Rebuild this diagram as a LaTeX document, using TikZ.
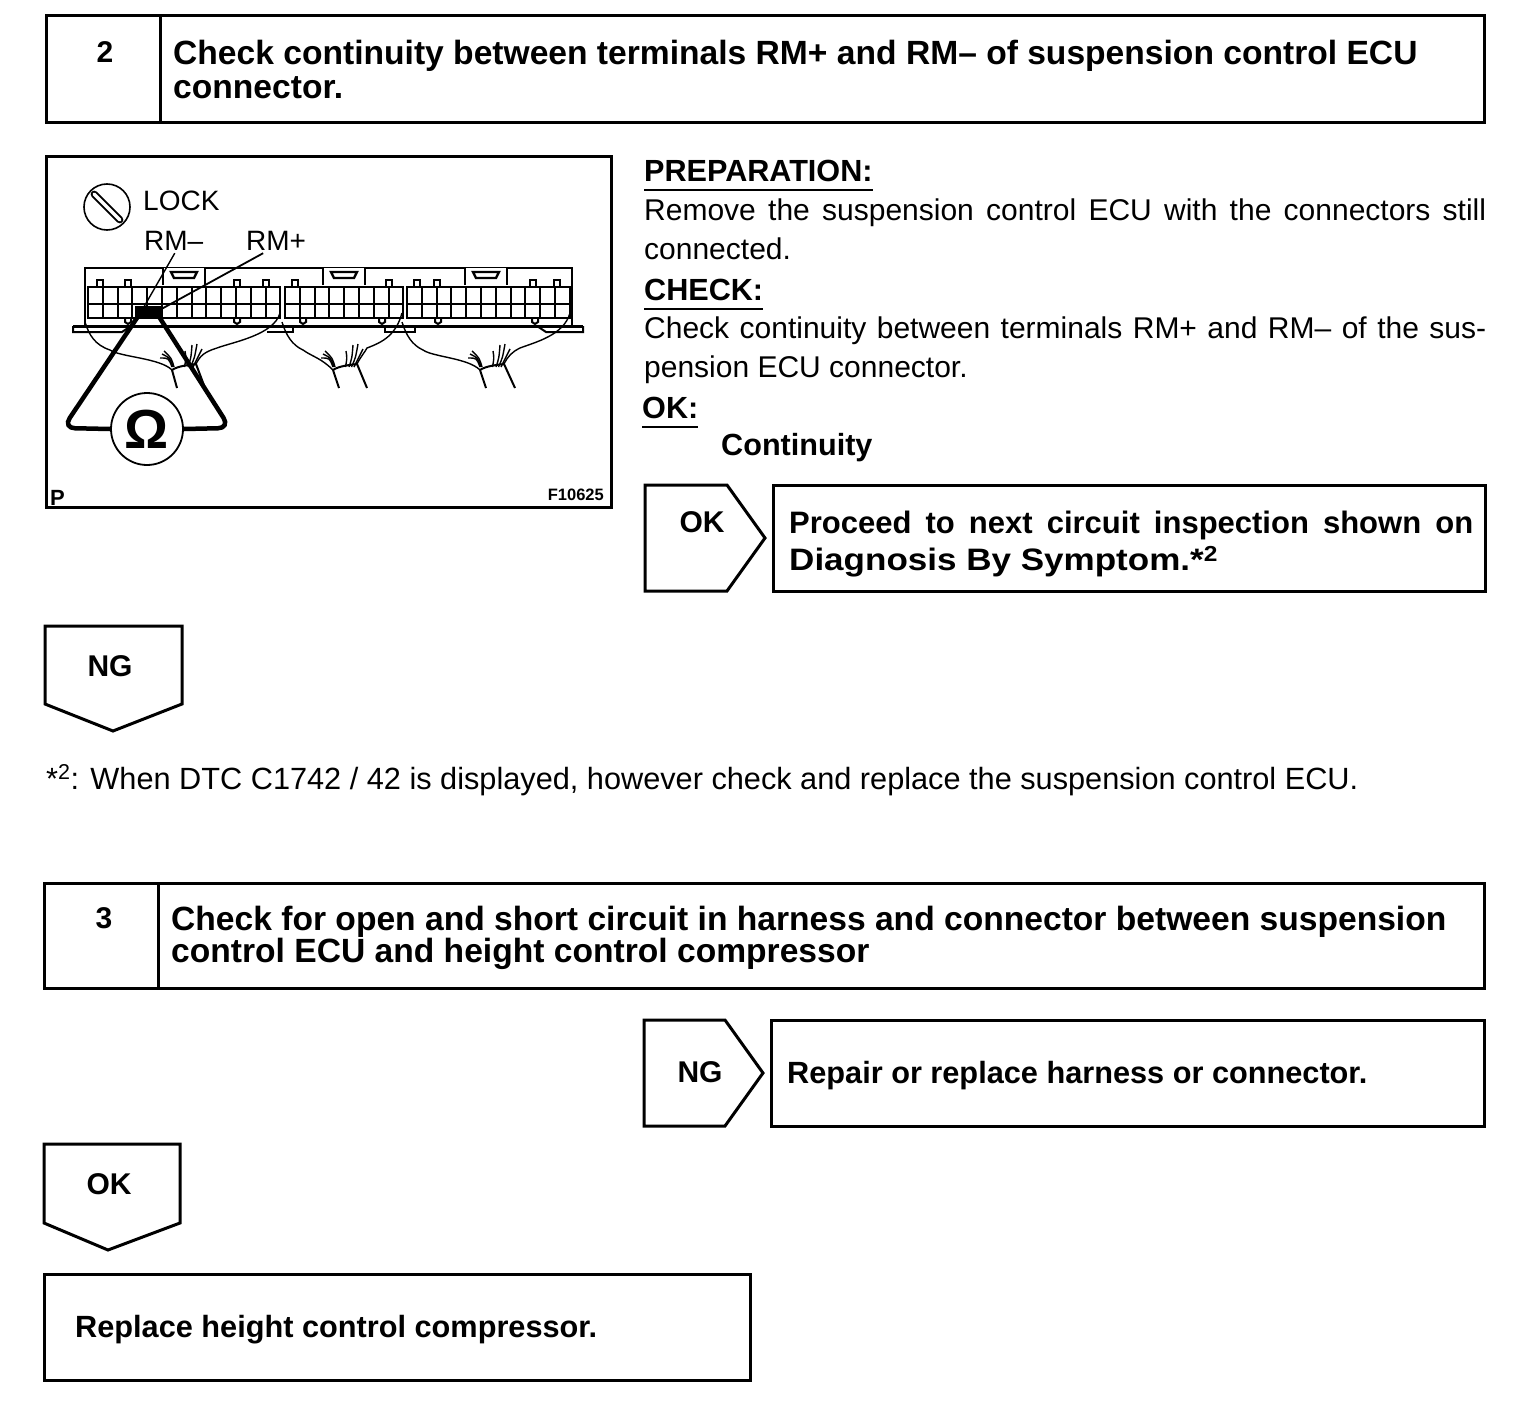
\documentclass[tikz,border=0pt]{standalone}
\usepackage{fontspec}
\setmainfont{Liberation Sans}
\usetikzlibrary{
    arrows.meta,             % For modern arrow tips
    positioning,             % For relative placement of nodes
    calc                     % For coordinate calculations
}

\begin{document}
\begin{tikzpicture}[
    x=1pt, y=-1pt, % One unit is one pixel of the page, y runs downwards
    frame_style/.style={draw=black, line width=3pt},
    box_style/.style={frame_style, rectangle, anchor=north west, inner sep=0pt, outer sep=0pt},
    title_style/.style={anchor=west, inner sep=0pt, align=left, font=\fontsize{33.6}{34}\selectfont\bfseries},
    result_style/.style={anchor=west, inner sep=0pt, font=\fontsize{30.7}{34}\selectfont\bfseries},
    tag_font/.style={font=\fontsize{30}{34}\selectfont\bfseries},
    body_style/.style={anchor=north west, inner sep=0pt, text width=842pt, align=justify, font=\fontsize{30}{39}\selectfont},
    head_style/.style={anchor=base west, inner sep=0pt, font=\fontsize{30.6}{34}\selectfont\bfseries},
    rule_style/.style={black, line width=2pt},
    thin_style/.style={black, line width=1.4pt},
    wire_style/.style={black, line width=1.4pt},
    probe_style/.style={black, line width=4.5pt, rounded corners=12pt},
    lbl_style/.style={inner sep=0pt, font=\fontsize{28}{34}\selectfont}
]
    \useasboundingbox (0,0) rectangle (1536,1418);

    % Step 2 header
    \node[box_style, minimum width=114pt, minimum height=107pt] (cell2) at (46,16) {};
    \node[box_style, minimum width=1324pt, minimum height=107pt] (title2) at (160,16) {};
    \node[title_style] (title2txt) at (173,69)
        {Check continuity between terminals RM+ and RM– of suspension control ECU\\connector.};
    \node[tag_font] (num2) at (105,52) {2};

    % Picture frame
    \node[box_style, minimum width=565pt, minimum height=351pt] (photo) at (46,156) {};

    % Lock symbol
    \node[draw, circle, line width=1.6pt, minimum size=46pt, inner sep=0pt] (lock) at (107,207) {};
    \draw[black, line width=1.8pt, double=white, double distance=3.5pt, line cap=round] (lock.135) ++(4,4) -- ($(lock.315)+(-4,-4)$);
    \node[lbl_style, anchor=base west] (locktxt) at (143,210) {LOCK};
    \node[lbl_style, anchor=base west] (rmminus) at (144,250) {RM–};
    \node[lbl_style, anchor=base west] (rmplus) at (246,250) {RM+};

    % Connector body
    \draw[rule_style, line width=2.4pt] (85,325) -- (85,268) -- (572,268) -- (572,325);
    \draw[black, line width=3pt] (73,326) -- (583,326);
    \draw[rule_style] (73,326) -- (73,332) -- (122,332) -- (131,326);
    \draw[rule_style] (537,326) -- (546,332) -- (583,332) -- (583,326);
    \draw[rule_style] (385,326) -- (385,332) -- (415,332) -- (415,326);
    \draw[rule_style] (267,332) -- (293,332) -- (293,326);

    % Terminal blocks
    \foreach \xa/\xb in {88/280,285/403,407/570} {
        \draw[rule_style] (\xa,287) rectangle (\xb,318);
        \draw[rule_style, line width=2.6pt] (\xa,304) -- (\xb,304);
        \pgfmathsetmacro{\xc}{\xa+14.8}
        \foreach \x in {\xa,\xc,...,\xb} {
            \draw[rule_style] (\x,287) -- (\x,318);
        }
    }

    % Lock windows on top of the connector
    \foreach \x in {163,323,465} {
        \fill[white] (\x,268) rectangle (\x+42,285);
        \draw[rule_style] (\x,285) -- (\x,268);
        \draw[rule_style] (\x+42,268) -- (\x+42,285);
        \draw[rule_style, line width=2.4pt] (\x+8,272) -- (\x+34,272) -- (\x+31,278) -- (\x+11,278) -- cycle;
    }

    % Small tabs above and below
    \foreach \x in {100,128,237,266,295,389,417,437,533,557} {
        \draw[rule_style] (\x-3,287) -- (\x-3,280) -- (\x+3,280) -- (\x+3,287);
    }
    \foreach \x in {128,237,303,382,438,535} {
        \draw[rule_style] (\x-3,318) -- (\x-3,322) -- (\x,324) -- (\x+3,322) -- (\x+3,318);
    }

    % Wire bundles
    \foreach \bx/\la/\lb/\ra/\rb/\sx/\sy in {
        172/85/110/280/238/177/205,
        333/282/303/402/388/339/367,
        480/402/423/570/541/486/515} {
        \draw[wire_style] (\la,322) .. controls (\la+4,335) and (\la+10,345) .. (\lb,350) .. controls (\lb+10,357) and (\bx-12,358) .. (\bx,370);
        \draw[wire_style] (\ra,313) .. controls (\ra-6,335) and (\rb-5,342) .. (\rb-21,348) .. controls (\bx+32,352) and (\bx+28,356) .. (\bx+24,364);
        \draw[wire_style, line width=2pt] (\bx,370) -- (\sx,388);
        \draw[wire_style, line width=2pt] (\bx+24,364) -- (\sy,388);
        \draw[wire_style, line width=2pt] (\bx,370) .. controls (\bx+6,366) and (\bx+16,365) .. (\bx+24,364);
        \foreach \a/\b in {-12/358,-10/354,-8/351,13/351,20/345,25/344,30/349} {
            \draw[wire_style] (\bx+\a*0.5+6,367) .. controls (\bx+\a*0.7+5,358) .. (\bx+\a,\b);
        }
    }

    % Meter and probes
    \fill[black] (135,306) rectangle (161,318);
    \node[draw, circle, fill=white, line width=1.8pt, minimum size=72pt, inner sep=0pt,
          font=\fontsize{55}{55}\selectfont\bfseries] (meter) at (147,429) {Ω};
    \coordinate (probeA) at (141,312);
    \coordinate (probeB) at (156,312);
    \coordinate (cornerA) at (63,428);
    \coordinate (cornerB) at (230,428);
    \draw[probe_style] (meter.west) -- (cornerA) -- (probeA);
    \draw[probe_style] (meter.east) -- (cornerB) -- (probeB);
    \draw[thin_style] (rmminus.south) ++(1,3) -- (probeA);
    \draw[thin_style, line width=1.8pt] (rmplus.south) ++(-13,3) -- (probeB);

    % Picture codes
    \node[lbl_style, anchor=base west, font=\fontsize{22}{24}\selectfont\bfseries] (pcode) at (50,505) {P};
    \node[lbl_style, anchor=base east, font=\fontsize{16.5}{18}\selectfont\bfseries] (fcode) at (604,500) {F10625};

    % Right hand text
    \node[head_style] (prep) at (644,181) {PREPARATION:};
    \draw[thin_style] ($(prep.base west)+(0,9)$) -- ($(prep.base east)+(0,9)$);
    \node[body_style] (prepbody) at (644,199) {Remove the suspension control ECU with the connectors still\linebreak connected.};
    \node[head_style] (check) at (644,300) {CHECK:};
    \draw[thin_style] ($(check.base west)+(0,9)$) -- ($(check.base east)+(0,9)$);
    \node[body_style] (checkbody) at (644,317) {Check continuity between terminals RM+ and RM– of the sus-\linebreak pension ECU connector.};
    \node[head_style] (okhead) at (642,418) {OK:};
    \draw[thin_style] ($(okhead.base west)+(0,9)$) -- ($(okhead.base east)+(0,9)$);
    \node[head_style] (contin) at (721,455) {Continuity};

    % OK branch of step 2
    \draw[frame_style, line join=miter] (645,485) -- (727,485) -- (765,538) -- (727,591) -- (645,591) -- cycle;
    \node[tag_font] (ok2) at (702,522) {OK};
    \node[box_style, minimum width=712pt, minimum height=106pt] (result2) at (773,485) {};
    \node[anchor=north west, inner sep=0pt, text width=684pt, align=justify,
          font=\fontsize{31}{37}\selectfont\bfseries] (result2txt) at (789,511)
        {Proceed to next circuit inspection shown on\linebreak {\addfontfeature{FakeStretch=1.13}Diagnosis By Symptom.*\textsuperscript{2}}};

    % NG branch of step 2
    \draw[frame_style] (45,626) -- (182,626) -- (182,704) -- (113,731) -- (45,704) -- cycle;
    \node[tag_font] (ng2) at (110,666) {NG};

    % Footnote
    \node[anchor=base west, inner sep=0pt, font=\fontsize{30.7}{34}\selectfont] (note) at (46,789)
        {*\textsuperscript{2}: When DTC C1742 / 42 is displayed, however check and replace the suspension control ECU.};

    % Step 3 header
    \node[box_style, minimum width=114pt, minimum height=105pt] (cell3) at (44,883) {};
    \node[box_style, minimum width=1326pt, minimum height=105pt] (title3) at (158,883) {};
    \node[title_style, font=\fontsize{33.6}{32}\selectfont\bfseries] (title3txt) at (171,938)
        {Check for open and short circuit in harness and connector between suspension\\control ECU and height control compressor};
    \node[tag_font] (num3) at (104,918) {3};

    % NG branch of step 3
    \draw[frame_style] (644,1020) -- (725,1020) -- (763,1073) -- (725,1126) -- (644,1126) -- cycle;
    \node[tag_font] (ng3) at (700,1072) {NG};
    \node[box_style, minimum width=713pt, minimum height=106pt] (result3) at (771,1020) {};
    \node[result_style] (result3txt) at (787,1076) {Repair or replace harness or connector.};

    % OK branch of step 3
    \draw[frame_style] (44,1144) -- (180,1144) -- (180,1223) -- (108,1250) -- (44,1223) -- cycle;
    \node[tag_font] (ok3) at (109,1184) {OK};

    % Last box
    \node[box_style, minimum width=706pt, minimum height=106pt] (final) at (44,1274) {};
    \node[result_style] (finaltxt) at (75,1330) {Replace height control compressor.};
\end{tikzpicture}
\end{document}
